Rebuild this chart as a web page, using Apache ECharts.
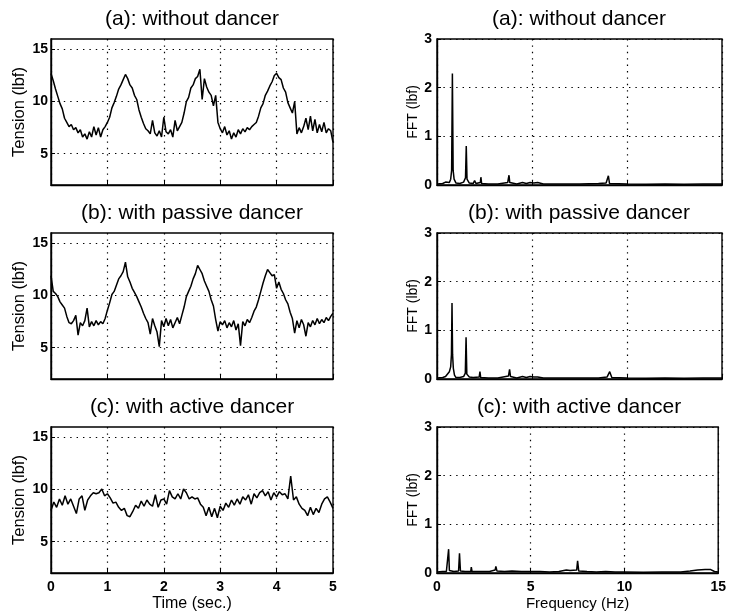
<!DOCTYPE html>
<html>
<head>
<meta charset="utf-8">
<script src="https://cdn.jsdelivr.net/npm/echarts@6/dist/echarts.min.js"></script>
<style>html,body{margin:0;padding:0;background:#fff}#c{width:729px;height:616px}</style>
</head>
<body>
<div id="c"></div>
<script>
// ---- data ----
const panelTitles = ['(a): without dancer', '(b): with passive dancer', '(c): with active dancer'];
const timeTicks = [0, 1, 2, 3, 4, 5];
const tensionTicks = [5, 10, 15];
const freqTicks = [0, 5, 10, 15];
const fftTicks = [0, 1, 2, 3];

const stepA = 0.04;
const tensionA = [12.7,12.0,11.2,10.5,9.8,9.3,8.4,8.0,7.6,7.8,7.3,7.5,7.0,7.3,6.6,6.9,6.4,7.1,6.6,7.6,
6.8,7.5,6.6,7.3,7.6,8.0,8.5,9.4,9.9,10.5,11.2,11.6,12.1,12.6,12.2,11.6,11.3,10.6,10.2,9.2,
8.5,7.9,7.4,7.2,6.9,8.2,7.0,6.7,7.2,6.6,8.5,7.1,6.9,7.3,6.6,8.2,7.2,7.6,8.0,8.9,
10.0,10.4,11.3,11.6,12.2,12.4,13.1,10.2,12.2,11.4,10.9,10.6,9.6,10.6,8.0,7.4,7.0,7.6,6.8,7.2,
6.4,7.0,6.6,7.3,6.9,7.4,7.1,7.5,7.3,7.6,7.8,8.0,8.6,9.4,9.8,10.6,11.0,11.5,11.9,12.5,
12.7,12.3,12.1,11.3,10.9,9.9,9.4,8.9,10.0,6.9,7.5,7.0,7.6,8.4,7.3,8.6,7.2,8.3,7.0,7.8,
7.1,8.0,7.0,7.4,7.2,6.1];

const stepB = 0.04;
const tensionB = [11.9,10.4,10.2,9.9,9.4,9.1,8.8,8.0,7.4,7.3,7.6,8.1,6.2,7.4,7.1,7.6,8.8,7.0,7.5,7.1,
7.6,7.2,7.5,7.3,7.8,8.6,9.3,10.1,10.4,11.0,11.6,11.9,12.3,13.2,11.8,11.3,10.7,10.3,9.9,9.4,
8.9,8.3,7.8,7.4,6.3,7.8,7.1,6.5,5.1,7.6,7.0,7.8,7.1,7.7,6.9,7.4,7.9,7.3,8.1,8.9,
9.9,10.4,10.9,11.6,12.1,12.9,12.5,12.1,11.4,10.9,10.4,9.6,9.0,7.7,6.6,7.5,7.2,7.6,6.9,7.4,
7.0,7.6,6.7,7.3,5.2,7.5,7.1,7.7,7.4,7.9,8.5,8.9,9.6,10.4,11.2,11.9,12.5,12.2,11.9,12.0,
10.7,11.3,10.6,10.2,9.6,9.2,8.4,7.8,6.4,7.6,6.9,7.7,7.2,6.1,7.4,7.0,7.6,7.2,7.8,7.3,
7.7,7.4,7.9,7.6,8.0,8.3];

const stepC = 0.05;
const tensionC = [8.0,8.8,8.3,9.1,8.5,9.4,8.6,9.1,8.4,7.7,9.1,9.4,8.0,9.0,9.4,9.7,9.6,9.7,10.05,9.4,
9.6,9.2,8.7,8.8,8.3,8.0,8.2,7.5,7.4,7.9,8.5,8.2,8.9,8.4,9.0,8.6,8.4,9.5,8.3,9.0,
9.1,8.6,9.9,9.3,9.1,9.6,9.1,10.05,9.7,9.1,9.3,9.1,9.2,8.6,8.3,7.5,8.3,7.4,8.2,7.3,
8.4,8.0,8.7,8.3,9.0,8.5,9.1,8.6,9.3,9.0,9.5,8.6,9.6,9.2,9.7,9.9,9.4,9.8,9.0,9.7,
9.3,9.8,9.5,9.6,9.1,11.3,9.0,9.3,8.6,8.2,8.0,7.5,8.3,7.6,8.2,7.8,8.6,9.1,9.3,8.8,8.2];

const freqA = [0,0.3,0.45,0.5,0.55,0.65,0.72,0.77,0.81,0.85,0.9,1.0,1.2,1.4,1.5,1.54,1.58,1.7,1.9,1.98,2.05,2.28,2.31,2.35,2.7,3.2,3.72,3.76,3.79,3.83,4.2,4.5,4.7,4.9,5.1,5.3,5.6,6.5,7.5,8.5,8.9,9.02,9.08,10,11,12,13,14,15];
const fftA  = [0.02,0.03,0.06,0.1,0.04,0.05,0.12,0.3,2.29,0.3,0.12,0.04,0.03,0.06,0.15,0.8,0.12,0.04,0.03,0.09,0.03,0.05,0.16,0.03,0.02,0.02,0.05,0.14,0.2,0.05,0.02,0.05,0.03,0.05,0.04,0.05,0.02,0.02,0.02,0.03,0.04,0.19,0.03,0.02,0.015,0.02,0.015,0.02,0.02];

const freqB = [0,0.3,0.45,0.55,0.65,0.72,0.76,0.79,0.82,0.86,0.92,1.0,1.2,1.4,1.49,1.53,1.57,1.7,1.9,1.95,2.0,2.22,2.26,2.3,2.7,3.2,3.76,3.82,3.87,4.2,4.5,4.7,4.9,5.1,5.3,5.6,6.5,7.5,8.5,8.95,9.09,9.2,10,11,12,13,14,15];
const fftB  = [0.02,0.03,0.05,0.08,0.15,0.25,0.5,1.56,0.5,0.22,0.08,0.03,0.03,0.05,0.12,0.86,0.1,0.04,0.03,0.06,0.03,0.04,0.15,0.03,0.02,0.02,0.06,0.2,0.05,0.02,0.05,0.03,0.05,0.04,0.04,0.02,0.02,0.02,0.02,0.04,0.15,0.03,0.02,0.015,0.02,0.015,0.02,0.02];

const freqC = [0,0.3,0.5,0.58,0.62,0.66,0.9,1.15,1.2,1.25,1.5,1.8,1.83,1.87,2.3,2.8,3.1,3.14,3.2,3.6,4.0,4.5,5.0,5.5,6.0,6.5,6.9,7.1,7.45,7.5,7.56,8.0,8.5,9.0,9.5,10,11,12,13,13.5,13.9,14.3,14.6,14.8,15];
const fftC  = [0.02,0.03,0.03,0.05,0.49,0.05,0.03,0.04,0.405,0.04,0.03,0.03,0.12,0.03,0.03,0.03,0.06,0.135,0.04,0.03,0.04,0.03,0.03,0.03,0.02,0.03,0.06,0.05,0.06,0.25,0.04,0.03,0.02,0.03,0.02,0.02,0.015,0.02,0.02,0.04,0.06,0.07,0.07,0.03,0.02];

// ---- build ----
const toPairs = (vals, step) => vals.map((v, i) => [+(i * step).toFixed(4), v]);
const zip = (xs, ys) => xs.map((x, i) => [x, ys[i]]);

const timeSeries = [toPairs(tensionA, stepA), toPairs(tensionB, stepB), toPairs(tensionC, stepC)];
const fftSeries = [zip(freqA, fftA), zip(freqB, fftB), zip(freqC, fftC)];

const FONT = 'Liberation Sans, Arial, Helvetica, sans-serif';
const tops = [39, 233, 427];
const H = 146;
const dotted = {show: true, lineStyle: {color: '#000', width: 1.2, type: [1.4, 5]}};
const tickLbl = (show, margin) => ({show: show, color: '#000', fontSize: 14, fontWeight: 'bold', fontFamily: FONT, margin: margin});

const grids = [], xAxes = [], yAxes = [], series = [], titles = [];
for (let r = 0; r < 3; r++) {
  const last = r === 2;
  grids.push({left: 51, width: 282, top: tops[r], height: H, show: true, borderColor: '#000', borderWidth: 1.4, containLabel: false});
  grids.push({left: 437, width: 285, top: tops[r], height: H, show: true, borderColor: '#000', borderWidth: 1.4, containLabel: false});
  const gl = 2 * r, gr = 2 * r + 1;
  xAxes.push({
    gridIndex: gl, type: 'value', min: 0, max: 5, interval: 1,
    axisLine: {show: true, lineStyle: {color: '#000', width: 1.4}},
    axisTick: {show: true, inside: true, length: 4, lineStyle: {color: '#000'}},
    axisLabel: tickLbl(last, 7),
    splitLine: dotted,
    name: last ? 'Time (sec.)' : '', nameLocation: 'middle', nameGap: 23,
    nameTextStyle: {color: '#000', fontSize: 16, fontFamily: FONT}
  });
  xAxes.push({
    gridIndex: gr, type: 'value', min: 0, max: 15, interval: 5,
    axisLine: {show: true, lineStyle: {color: '#000', width: 1.4}},
    axisTick: {show: true, inside: true, length: 4, lineStyle: {color: '#000'}},
    axisLabel: tickLbl(last, 7),
    splitLine: dotted,
    name: last ? 'Frequency (Hz)' : '', nameLocation: 'middle', nameGap: 23,
    nameTextStyle: {color: '#000', fontSize: 15, fontFamily: FONT}
  });
  yAxes.push({
    gridIndex: gl, type: 'value', min: 2, max: 16,
    axisLine: {show: true, lineStyle: {color: '#000', width: 1.4}},
    axisTick: {show: true, inside: true, length: 4, lineStyle: {color: '#000'}, customValues: tensionTicks},
    axisLabel: Object.assign(tickLbl(true, 3), {customValues: tensionTicks}),
    splitLine: {show: false},
    name: 'Tension (lbf)', nameLocation: 'middle', nameGap: 23, nameRotate: 90,
    nameTextStyle: {color: '#000', fontSize: 16.5, fontFamily: FONT}
  });
  yAxes.push({
    gridIndex: gr, type: 'value', min: 0, max: 3, interval: 1,
    axisLine: {show: true, lineStyle: {color: '#000', width: 1.4}},
    axisTick: {show: true, inside: true, length: 4, lineStyle: {color: '#000'}},
    axisLabel: tickLbl(true, 5),
    splitLine: dotted,
    name: 'FFT (lbf)', nameLocation: 'middle', nameGap: 16, nameRotate: 90,
    nameTextStyle: {color: '#000', fontSize: 14, fontFamily: FONT}
  });
  series.push({
    type: 'line', xAxisIndex: gl, yAxisIndex: gl, data: timeSeries[r],
    showSymbol: false, symbol: 'none', lineStyle: {color: '#000', width: 1.5}, silent: true,
    markLine: {
      silent: true, symbol: 'none', label: {show: false},
      lineStyle: {color: '#000', width: 1.2, type: [1.4, 5]},
      data: tensionTicks.map(v => ({yAxis: v}))
    }
  });
  series.push({
    type: 'line', xAxisIndex: gr, yAxisIndex: gr, data: fftSeries[r],
    showSymbol: false, symbol: 'none', lineStyle: {color: '#000', width: 1.5}, silent: true
  });
  titles.push({text: panelTitles[r], left: 192, top: tops[r] - 30, textAlign: 'center', padding: 0,
    textStyle: {color: '#000', fontSize: 21, fontWeight: 'normal', fontFamily: FONT}});
  titles.push({text: panelTitles[r], left: 579, top: tops[r] - 30, textAlign: 'center', padding: 0,
    textStyle: {color: '#000', fontSize: 21, fontWeight: 'normal', fontFamily: FONT}});
}

const chart = echarts.init(document.getElementById('c'), null, {renderer: 'canvas'});
chart.setOption({
  animation: false,
  backgroundColor: '#fff',
  title: titles,
  grid: grids,
  xAxis: xAxes,
  yAxis: yAxes,
  series: series
});
</script>
</body>
</html>
